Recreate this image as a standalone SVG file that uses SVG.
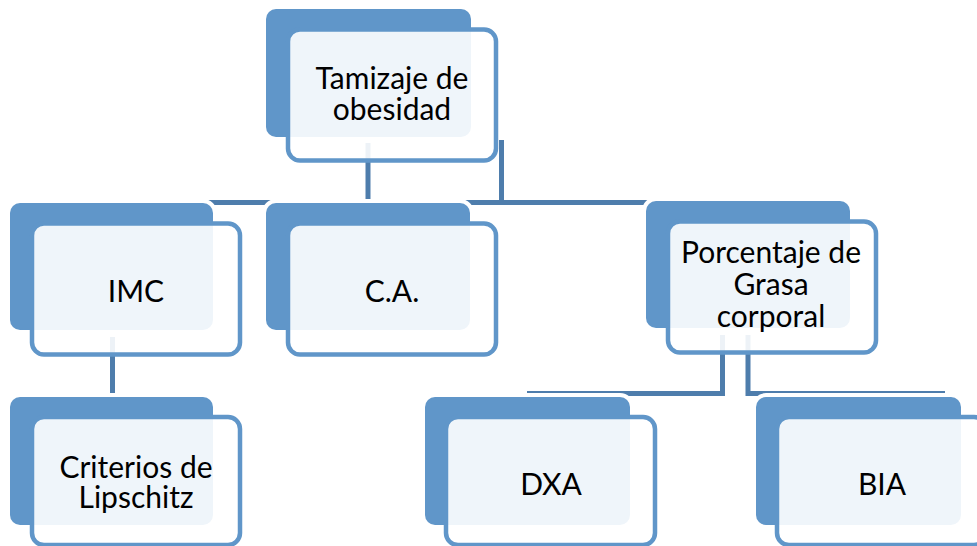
<svg xmlns="http://www.w3.org/2000/svg" width="977" height="546" viewBox="0 0 977 546">
<style>
.back{fill:#6096c9;stroke:#ffffff;stroke-width:8;paint-order:stroke}
.front{fill:#ffffff;fill-opacity:0.9;stroke:#6096c9;stroke-width:4.5}
.lbl{font-family:"Lato","Noto Sans",sans-serif;font-size:30px;fill:#000000;text-anchor:middle}
.conn{fill:none;stroke:#4e7dac;stroke-width:5}
</style>
<rect x="0" y="0" width="977" height="546" fill="#ffffff"/>
<g id="connectors">
<line class="conn" x1="368" y1="143" x2="368" y2="202.5"/>
<line class="conn" x1="501.5" y1="140" x2="501.5" y2="202.5"/>
<line class="conn" x1="206" y1="202.5" x2="750" y2="202.5"/>
<line class="conn" x1="112.5" y1="337" x2="112.5" y2="398"/>
<polyline class="conn" points="722.5,335 722.5,393.5 527,393.5"/>
<polyline class="conn" points="748,335 748,393.5 945,393.5"/>
</g>
<g id="n-tamizaje">
<rect class="back" x="266" y="9" width="205" height="128" rx="10"/>
<rect class="front" x="288" y="29.5" width="208" height="131" rx="12"/>
<text class="lbl"><tspan x="392" y="89">Tamizaje de</tspan><tspan x="392" y="120">obesidad</tspan></text>
</g>
<g id="n-imc">
<rect class="back" x="10" y="203" width="203" height="127" rx="10"/>
<rect class="front" x="32" y="223.5" width="208" height="131" rx="12"/>
<text class="lbl" x="136" y="302">IMC</text>
</g>
<g id="n-ca">
<rect class="back" x="266" y="203" width="204" height="127" rx="10"/>
<rect class="front" x="288" y="223.5" width="208" height="131" rx="12"/>
<text class="lbl" x="392" y="302">C.A.</text>
</g>
<g id="n-porcentaje">
<rect class="back" x="646" y="201" width="204" height="127" rx="10"/>
<rect class="front" x="668" y="221.5" width="208" height="131" rx="12"/>
<text class="lbl"><tspan x="771" y="263">Porcentaje de</tspan><tspan x="771" y="295">Grasa</tspan><tspan x="771" y="327">corporal</tspan></text>
</g>
<g id="n-criterios">
<rect class="back" x="10" y="397" width="203" height="128" rx="10"/>
<rect class="front" x="32" y="417" width="208" height="128" rx="12"/>
<text class="lbl"><tspan x="136" y="478">Criterios de</tspan><tspan x="136" y="508">Lipschitz</tspan></text>
</g>
<g id="n-dxa">
<rect class="back" x="425" y="397" width="205" height="128" rx="10"/>
<rect class="front" x="446" y="417" width="209" height="128" rx="12"/>
<text class="lbl" x="551" y="495">DXA</text>
</g>
<g id="n-bia">
<rect class="back" x="756" y="397" width="205" height="128" rx="10"/>
<rect class="front" x="777" y="417" width="209" height="128" rx="12"/>
<text class="lbl" x="882" y="495">BIA</text>
</g>
</svg>
